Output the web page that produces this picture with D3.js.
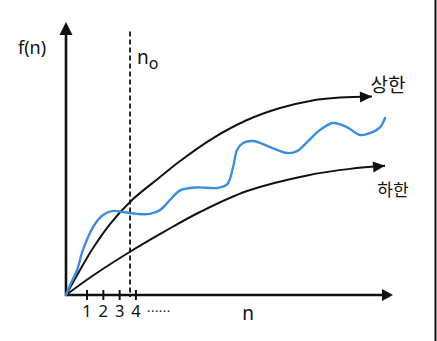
<!DOCTYPE html>
<html>
<head>
<meta charset="utf-8">
<script src="https://cdn.jsdelivr.net/npm/d3@7/dist/d3.min.js"></script>
<style>
html,body{margin:0;padding:0;background:#fff;}
svg{display:block;}
</style>
</head>
<body>
<script>
// ---- data ----
const tickValues = [1, 2, 3, 4];
const tickLabels = ["1", "2", "3", "4"];
const n0 = 3.64;
const upperX = [-0.29, 0.57, 1.37, 2.41, 3.76, 5.48, 6.71, 8.74, 10.82, 12.84, 14.68, 16.52, 18.48];
const upperY = [0, 9.16, 17.2, 26.0, 34.8, 43.2, 49.1, 57.5, 64.1, 68.5, 71.1, 72.3, 72.7];
const lowerX = [-0.29, 1.37, 3.76, 5.79, 7.93, 10.82, 14.50, 17.13, 19.28];
const lowerY = [0, 7.14, 16.3, 23.4, 30.4, 38.1, 43.8, 46.2, 47.3];
const fnX = [-0.29, 0.02, 0.39, 0.75, 1.37, 1.98, 2.60, 3.21, 4.07, 4.87, 5.48, 6.09, 6.71, 7.75, 8.98, 9.59, 9.96, 10.20, 10.57, 11.18, 12.23, 13.27, 13.89, 14.50, 15.28, 16.08, 16.94, 17.74, 18.36, 18.98, 19.28];
const fnY = [0, 4.4, 9.16, 16.5, 24.9, 29.3, 30.8, 30.4, 29.7, 29.7, 31.1, 34.8, 38.3, 39.4, 39.2, 40.5, 46.9, 53.1, 55.7, 56.4, 54.2, 52.0, 52.7, 56.0, 60.4, 63.0, 61.5, 58.6, 59.3, 61.5, 64.8];
const labels = { yAxis: "f(n)", xAxis: "n", n0: "n", n0sub: "o", upper: "상한", lower: "하한", dots: "......" };

// ---- layout ----
const W = 437, H = 341;
const svg = d3.select("body").append("svg").attr("width", W).attr("height", H);
svg.append("rect").attr("width", W).attr("height", H).attr("fill", "#fff");

const x = d3.scaleLinear().domain([-0.29, 19.77]).range([66, 393]);
const y = d3.scaleLinear().domain([0, 100]).range([295, 22]);
const font = "'Noto Sans', 'Noto Sans CJK KR', sans-serif";

// right border line
svg.append("line").attr("x1", 435.5).attr("x2", 435.5).attr("y1", 0).attr("y2", H)
  .attr("stroke", "#111").attr("stroke-width", 2);

function arrowHead(tip, angle, len, wid) {
  const [tx, ty] = tip;
  const bx = tx - len * Math.cos(angle), by = ty - len * Math.sin(angle);
  const px = -Math.sin(angle) * wid / 2, py = Math.cos(angle) * wid / 2;
  svg.append("path")
    .attr("d", `M${tx},${ty}L${bx + px},${by + py}L${bx - px},${by - py}Z`)
    .attr("fill", "#111");
}

// axes
const x0 = x.domain()[0], x1 = x.domain()[1];
svg.append("line").attr("x1", x(x0)).attr("x2", x(x0)).attr("y1", y(0) + 1).attr("y2", y(100) + 10)
  .attr("stroke", "#111").attr("stroke-width", 2.6);
arrowHead([x(x0), y(100)], -Math.PI / 2, 13, 13);
svg.append("line").attr("x1", x(x0) - 1).attr("x2", x(x1) - 9).attr("y1", y(0)).attr("y2", y(0))
  .attr("stroke", "#111").attr("stroke-width", 2.6);
arrowHead([x(x1), y(0)], 0, 11, 12);

// ticks
const tg = svg.append("g");
tg.selectAll("line").data(tickValues).join("line")
  .attr("x1", d => x(d)).attr("x2", d => x(d))
  .attr("y1", y(0) - 5).attr("y2", y(0) + 5)
  .attr("stroke", "#111").attr("stroke-width", 2);
tg.selectAll("text").data(tickValues).join("text")
  .attr("x", d => x(d)).attr("y", y(0) + 22)
  .attr("text-anchor", "middle")
  .attr("font-family", font).attr("font-size", 16.5).attr("fill", "#111")
  .text((d, i) => tickLabels[i]);
svg.append("text").attr("x", x(4) + 11).attr("y", y(0) + 17)
  .attr("font-family", font).attr("font-size", 13).attr("fill", "#111")
  .attr("letter-spacing", 0.5)
  .text(labels.dots);

// n0 dashed line
svg.append("line").attr("x1", x(n0)).attr("x2", x(n0)).attr("y1", y(96.5)).attr("y2", y(0) + 2)
  .attr("stroke", "#111").attr("stroke-width", 1.8).attr("stroke-dasharray", "5,3");

// curves
const line = d3.line().x(d => x(d[0])).y(d => y(d[1])).curve(d3.curveCatmullRom.alpha(0.5));
const upper = upperX.map((v, i) => [v, upperY[i]]);
const lower = lowerX.map((v, i) => [v, lowerY[i]]);
const fn = fnX.map((v, i) => [v, fnY[i]]);

function drawArrowCurve(pts) {
  const last = pts[pts.length - 1], prev = pts[pts.length - 2];
  const tip = [x(last[0]), y(last[1])];
  const pp = [x(prev[0]), y(prev[1])];
  const ang = Math.atan2(tip[1] - pp[1], tip[0] - pp[0]);
  svg.append("path").attr("d", line(pts)).attr("fill", "none")
    .attr("stroke", "#111").attr("stroke-width", 2);
  arrowHead(tip, ang, 12, 11);
}
drawArrowCurve(upper);
drawArrowCurve(lower);

svg.append("path").attr("d", line(fn)).attr("fill", "none")
  .attr("stroke", "#3a8ee0").attr("stroke-width", 2.4).attr("stroke-linecap", "round");

// labels
svg.append("text").attr("x", 18).attr("y", 54)
  .attr("font-family", font).attr("font-size", 18).attr("fill", "#111").text(labels.yAxis);
const n0t = svg.append("text").attr("x", x(n0) + 7).attr("y", 64)
  .attr("font-family", font).attr("font-size", 19).attr("fill", "#111");
n0t.append("tspan").text(labels.n0);
n0t.append("tspan").attr("dy", 5).attr("font-size", 16).text(labels.n0sub);
svg.append("text").attr("x", 248).attr("y", 320).attr("text-anchor", "middle")
  .attr("font-family", font).attr("font-size", 19).attr("fill", "#111").text(labels.xAxis);
svg.append("text").attr("x", 388).attr("y", 92).attr("text-anchor", "middle")
  .attr("font-family", font).attr("font-size", 19).attr("fill", "#111").text(labels.upper);
svg.append("text").attr("x", 393).attr("y", 196).attr("text-anchor", "middle")
  .attr("font-family", font).attr("font-size", 17).attr("fill", "#111").text(labels.lower);
</script>
</body>
</html>
